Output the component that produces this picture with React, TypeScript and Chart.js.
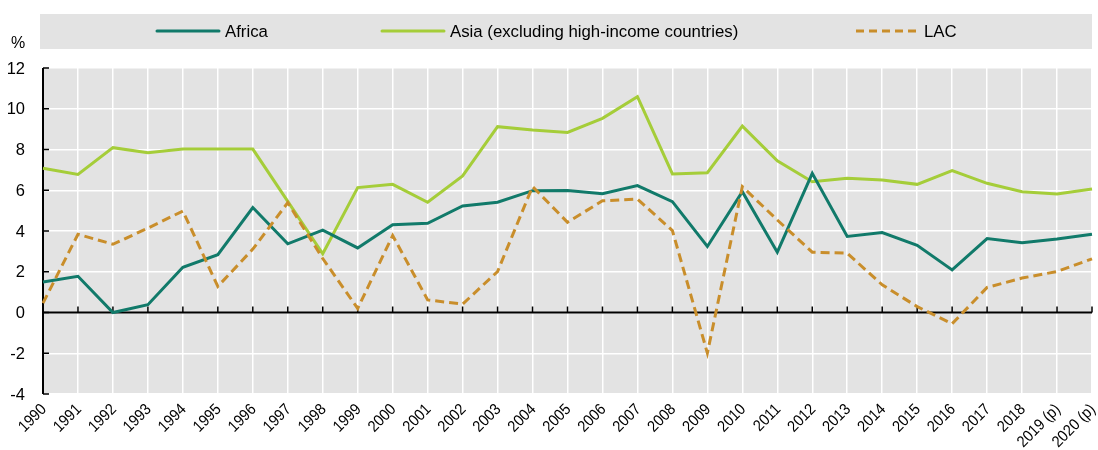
import React, { useEffect, useRef } from "react";
import { Chart, registerables } from "chart.js";

Chart.register(...registerables);

const years = [
  "1990", "1991", "1992", "1993", "1994", "1995", "1996", "1997", "1998", "1999",
  "2000", "2001", "2002", "2003", "2004", "2005", "2006", "2007", "2008", "2009",
  "2010", "2011", "2012", "2013", "2014", "2015", "2016", "2017", "2018", "2019 (p)", "2020 (p)",
];

const africa = [
  1.5, 1.78, 0.0, 0.38, 2.22, 2.84, 5.15, 3.37, 4.04, 3.17,
  4.31, 4.38, 5.23, 5.41, 5.98, 5.99, 5.83, 6.23, 5.44, 3.24,
  5.93, 2.96, 6.83, 3.73, 3.92, 3.3, 2.09, 3.63, 3.42, 3.61, 3.84,
];

const asia = [
  7.08, 6.78, 8.09, 7.84, 8.02, 8.02, 8.02, 5.45, 2.88, 6.13,
  6.29, 5.41, 6.7, 9.12, 8.96, 8.84, 9.53, 10.59, 6.8, 6.86,
  9.15, 7.45, 6.42, 6.59, 6.5, 6.29, 6.96, 6.34, 5.93, 5.82, 6.06,
];

const lac = [
  0.46, 3.84, 3.35, 4.14, 4.98, 1.28, 3.11, 5.39, 2.65, 0.2,
  3.78, 0.62, 0.41, 2.01, 6.18, 4.43, 5.48, 5.57, 4.02, -1.99,
  6.18, 4.54, 2.96, 2.91, 1.36, 0.29, -0.55, 1.23, 1.69, 2.01, 2.63,
];

const seriesNames = ["Africa", "Asia (excluding high-income countries)", "LAC"];
const seriesColors = ["#117a6a", "#a5cd39", "#c98e2b"];
const yMin = -4;
const yMax = 12;
const yStep = 2;
const yUnit = "%";

const FONT = "'Liberation Sans', Arial, sans-serif";
const PLOT_BG = "#e3e3e3";

function drawText(
  ctx: CanvasRenderingContext2D,
  text: string,
  x: number,
  y: number,
  align: CanvasTextAlign,
  size: number,
  hScale = 1,
  angle = 0
) {
  ctx.save();
  ctx.translate(x, y);
  if (angle) ctx.rotate(angle);
  ctx.scale(hScale, 1);
  ctx.font = `${size}px ${FONT}`;
  ctx.fillStyle = "#000";
  ctx.textAlign = align;
  ctx.textBaseline = "middle";
  ctx.fillText(text, 0, 0);
  ctx.restore();
}

const decorPlugin = {
  id: "decor",
  beforeDraw(chart: any) {
    const { ctx, chartArea } = chart;
    ctx.save();
    ctx.fillStyle = PLOT_BG;
    ctx.fillRect(chartArea.left, chartArea.top, chartArea.right - chartArea.left, chartArea.bottom - chartArea.top);
    ctx.fillRect(40, 14, chartArea.right - 40, 35);
    const legendItems = [
      { x: 157, text: seriesNames[0], color: seriesColors[0], dash: [] as number[] },
      { x: 382, text: seriesNames[1], color: seriesColors[1], dash: [] as number[] },
      { x: 856, text: seriesNames[2], color: seriesColors[2], dash: [8, 5] },
    ];
    const ly = 31;
    legendItems.forEach((it) => {
      ctx.beginPath();
      ctx.strokeStyle = it.color;
      ctx.lineWidth = 3;
      ctx.lineCap = it.dash.length ? "butt" : "round";
      ctx.setLineDash(it.dash);
      ctx.moveTo(it.x, ly);
      ctx.lineTo(it.x + 62, ly);
      ctx.stroke();
      ctx.setLineDash([]);
      drawText(ctx, it.text, it.x + 68, ly + 1, "left", 16.8);
    });
    drawText(ctx, yUnit, 11, 44, "left", 16);
    ctx.restore();
  },
  beforeDatasetsDraw(chart: any) {
    const { ctx, chartArea, scales } = chart;
    const xs = scales.x;
    const ys = scales.y;
    ctx.save();
    ctx.strokeStyle = "#000";
    const y0 = ys.getPixelForValue(0);
    ctx.lineWidth = 2;
    ctx.beginPath();
    ctx.moveTo(chartArea.left, y0);
    ctx.lineTo(chartArea.right, y0);
    ctx.stroke();
    ctx.lineWidth = 1.5;
    for (let i = 0; i < years.length; i++) {
      const x = xs.getPixelForValue(i);
      ctx.beginPath();
      ctx.moveTo(x, y0);
      ctx.lineTo(x, y0 - 6);
      ctx.stroke();
    }
    ctx.lineWidth = 2;
    ctx.beginPath();
    ctx.moveTo(chartArea.left, chartArea.top);
    ctx.lineTo(chartArea.left, chartArea.bottom);
    ctx.stroke();
    ctx.lineWidth = 1.5;
    for (let v = yMin; v <= yMax; v += yStep) {
      const y = ys.getPixelForValue(v);
      ctx.beginPath();
      ctx.moveTo(chartArea.left, y);
      ctx.lineTo(chartArea.left + 6, y);
      ctx.stroke();
    }
    for (let v = yMin; v <= yMax; v += yStep) {
      const y = ys.getPixelForValue(v);
      drawText(ctx, String(v), 25, y + 1, "right", 16.5);
    }
    for (let i = 0; i < years.length; i++) {
      const x = xs.getPixelForValue(i);
      drawText(ctx, years[i], x + 1, chartArea.bottom + 13, "right", 16, 0.9, -Math.PI / 4);
    }
    ctx.restore();
  },
};

export default function App() {
  const canvasRef = useRef<HTMLCanvasElement | null>(null);

  useEffect(() => {
    document.body.style.margin = "0";
    const canvas = canvasRef.current;
    if (!canvas) return;
    const chart = new Chart(canvas, {
      type: "line",
      data: {
        labels: years,
        datasets: [
          {
            label: seriesNames[0],
            data: africa,
            borderColor: seriesColors[0],
            backgroundColor: seriesColors[0],
            borderWidth: 3,
            pointRadius: 0,
            tension: 0,
            order: 2,
          },
          {
            label: seriesNames[1],
            data: asia,
            borderColor: seriesColors[1],
            backgroundColor: seriesColors[1],
            borderWidth: 3,
            pointRadius: 0,
            tension: 0,
            order: 3,
          },
          {
            label: seriesNames[2],
            data: lac,
            borderColor: seriesColors[2],
            backgroundColor: seriesColors[2],
            borderWidth: 3,
            borderDash: [9, 5],
            pointRadius: 0,
            tension: 0,
            order: 1,
          },
        ],
      },
      options: {
        responsive: false,
        animation: false,
        devicePixelRatio: 1,
        layout: { padding: { top: 68, right: 6, left: 0, bottom: 0 } },
        plugins: {
          legend: { display: false },
          tooltip: { enabled: false },
          title: { display: false },
        },
        scales: {
          x: {
            type: "category",
            offset: false,
            grid: { color: "#ffffff", lineWidth: 1.5, drawTicks: false },
            border: { display: false },
            ticks: { display: false, autoSkip: false },
            afterFit: (scale: any) => {
              scale.height = 56;
              scale.paddingLeft = 0;
              scale.paddingRight = 0;
            },
          },
          y: {
            min: yMin,
            max: yMax,
            grid: { color: "#ffffff", lineWidth: 1.5, drawTicks: false },
            border: { display: false },
            ticks: { display: false, stepSize: yStep },
            afterFit: (scale: any) => {
              scale.width = 43;
              scale.paddingTop = 0;
              scale.paddingBottom = 0;
            },
          },
        },
      },
      plugins: [decorPlugin],
    });
    return () => chart.destroy();
  }, []);

  return (
    <div style={{ width: 1098, height: 450 }}>
      <canvas ref={canvasRef} width={1098} height={450} />
    </div>
  );
}
